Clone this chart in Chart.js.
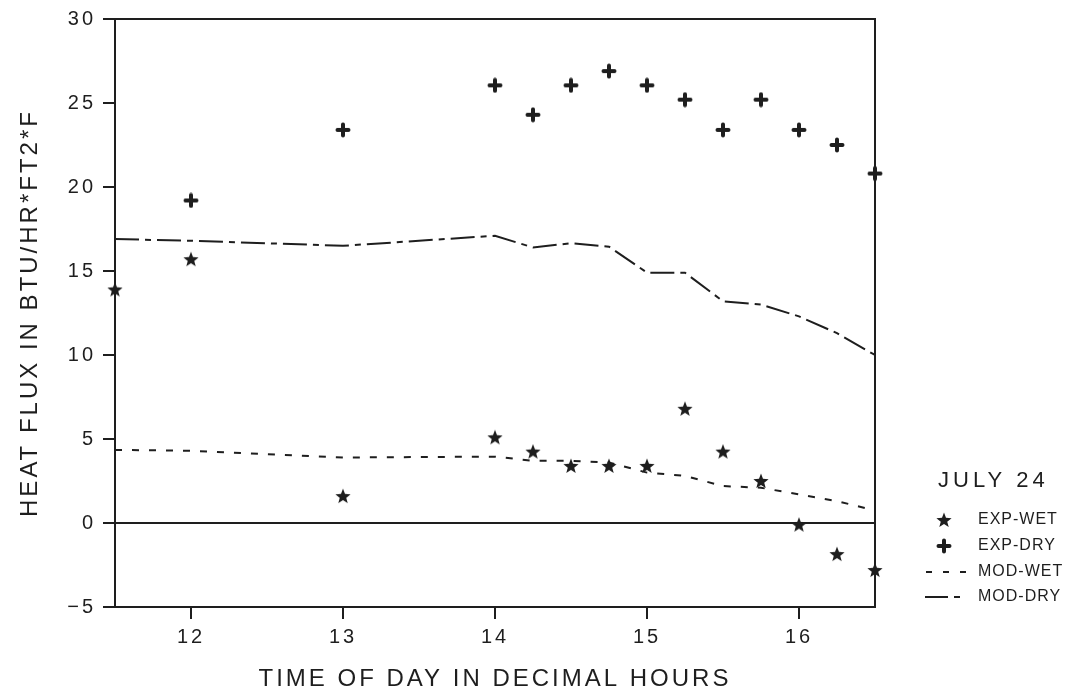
<!DOCTYPE html>
<html>
<head>
<meta charset="utf-8">
<script src="https://cdn.jsdelivr.net/npm/chart.js@4/dist/chart.umd.min.js"></script>
<style>
  html, body { margin: 0; padding: 0; background: #fff; }
  #wrap { width: 1074px; height: 696px; position: relative; }
</style>
</head>
<body>
<div id="wrap"><canvas id="chart"></canvas></div>
<script>
// time of day (decimal hours)
var hours = [11.5, 12, 13, 14, 14.25, 14.5, 14.75, 15, 15.25, 15.5, 15.75, 16, 16.25, 16.5];
var expWet = [13.9, 15.7, 1.6, 5.1, 4.25, 3.4, 3.4, 3.4, 6.8, 4.25, 2.5, -0.1, -1.85, -2.8];
var expDry = [null, 19.2, 23.4, 26.05, 24.3, 26.05, 26.9, 26.05, 25.2, 23.4, 25.2, 23.4, 22.5, 20.8];
var modWet = [4.35, 4.3, 3.9, 3.95, 3.7, 3.7, 3.6, 3.0, 2.8, 2.2, 2.1, 1.7, 1.3, 0.75];
var modDry = [16.9, 16.8, 16.5, 17.1, 16.4, 16.65, 16.45, 14.9, 14.9, 13.2, 13.0, 12.3, 11.3, 10.0];
var xTicks = [12, 13, 14, 15, 16];
var legendTitle = 'JULY 24';
var legendNames = ['EXP-WET', 'EXP-DRY', 'MOD-WET', 'MOD-DRY'];

var ink = '#1e1e1e';
var fontName = '"Liberation Sans", Arial, sans-serif';

function pts(ys) {
    var out = [];
    ys.forEach(function (y, i) {
        if (y !== null) out.push({ x: hours[i], y: y });
    });
    return out;
}

function starImage() {
    var c = document.createElement('canvas');
    c.width = 16; c.height = 16;
    var g = c.getContext('2d');
    g.fillStyle = ink;
    g.beginPath();
    for (var i = 0; i < 10; i++) {
        var r = i % 2 === 0 ? 8 : 3.4;
        var a = -Math.PI / 2 + i * Math.PI / 5;
        g.lineTo(8 + r * Math.cos(a), 8.6 + r * Math.sin(a));
    }
    g.closePath();
    g.fill();
    return c;
}

function crossImage() {
    var c = document.createElement('canvas');
    c.width = 16; c.height = 16;
    var g = c.getContext('2d');
    g.strokeStyle = ink;
    g.lineWidth = 4;
    g.lineCap = 'round';
    g.beginPath();
    g.moveTo(2.5, 8); g.lineTo(13.5, 8);
    g.moveTo(8, 2.5); g.lineTo(8, 13.5);
    g.stroke();
    return c;
}

var star = starImage();
var cross = crossImage();
var wetDash = [7, 10];
var dryDash = [24, 6, 6, 6];

var spacingPlugin = {
    id: 'spacing',
    beforeDraw: function (chart) {
        chart.ctx.letterSpacing = '3px';
    }
};

var framePlugin = {
    id: 'frame',
    afterDatasetsDraw: function (chart) {
        var a = chart.chartArea, ctx = chart.ctx;
        ctx.save();
        ctx.strokeStyle = ink;
        ctx.lineWidth = 2;
        ctx.strokeRect(a.left, a.top, a.right - a.left, a.bottom - a.top);
        ctx.restore();
    },
    afterDraw: function (chart) {
        var ctx = chart.ctx;
        ctx.save();
        ctx.fillStyle = ink;
        ctx.textBaseline = 'middle';
        ctx.textAlign = 'left';
        ctx.letterSpacing = '4px';
        ctx.font = '22px ' + fontName;
        ctx.fillText(legendTitle, 938, 481);

        var rows = [520, 546, 572, 597];
        ctx.letterSpacing = '1px';
        ctx.font = '16px ' + fontName;
        legendNames.forEach(function (name, i) {
            ctx.fillText(name, 978, rows[i]);
        });
        ctx.drawImage(star, 936, rows[0] - 8);
        ctx.drawImage(cross, 936, rows[1] - 8);

        ctx.strokeStyle = ink;
        ctx.lineWidth = 2;
        ctx.setLineDash([6, 11]);
        ctx.beginPath();
        ctx.moveTo(926, rows[2]); ctx.lineTo(966, rows[2]);
        ctx.stroke();
        ctx.setLineDash([23, 6, 6, 20]);
        ctx.beginPath();
        ctx.moveTo(925, rows[3]); ctx.lineTo(961, rows[3]);
        ctx.stroke();
        ctx.restore();
    }
};

new Chart(document.getElementById('chart'), {
    type: 'scatter',
    data: {
        datasets: [
            {
                label: legendNames[0],
                data: pts(expWet),
                pointStyle: star,
                pointRadius: 8,
                clip: false,
                order: 0
            },
            {
                label: legendNames[1],
                data: pts(expDry),
                pointStyle: cross,
                pointRadius: 8,
                clip: false,
                order: 0
            },
            {
                label: legendNames[2],
                data: pts(modWet),
                showLine: true,
                pointRadius: 0,
                borderColor: ink,
                borderWidth: 2,
                borderDash: wetDash,
                order: 1
            },
            {
                label: legendNames[3],
                data: pts(modDry),
                showLine: true,
                pointRadius: 0,
                borderColor: ink,
                borderWidth: 2,
                borderDash: dryDash,
                order: 1
            }
        ]
    },
    options: {
        responsive: true,
        maintainAspectRatio: false,
        animation: false,
        events: [],
        layout: { padding: { left: 0, right: 199, top: 18, bottom: 0 } },
        plugins: {
            legend: { display: false },
            tooltip: { enabled: false }
        },
        scales: {
            x: {
                type: 'linear',
                min: 11.5,
                max: 16.5,
                afterBuildTicks: function (scale) {
                    scale.ticks = xTicks.map(function (v) { return { value: v }; });
                },
                afterFit: function (scale) { scale.height = 89; },
                grid: {
                    drawOnChartArea: false,
                    color: ink,
                    tickColor: ink,
                    tickLength: 12,
                    lineWidth: 2
                },
                border: { color: ink, width: 2 },
                ticks: {
                    color: ink,
                    padding: 6,
                    maxRotation: 0,
                    font: { family: fontName, size: 20 }
                },
                title: {
                    display: true,
                    text: 'TIME OF DAY IN DECIMAL HOURS',
                    color: ink,
                    padding: { top: 0, bottom: 2 },
                    font: { family: fontName, size: 24 }
                }
            },
            y: {
                min: -5,
                max: 30,
                afterFit: function (scale) { scale.width = 115; },
                grid: {
                    drawOnChartArea: true,
                    color: function (c) { return c.tick && c.tick.value === 0 ? ink : 'rgba(0,0,0,0)'; },
                    tickColor: ink,
                    tickLength: 12,
                    lineWidth: 2
                },
                border: { color: ink, width: 2 },
                ticks: {
                    stepSize: 5,
                    color: ink,
                    padding: 7,
                    font: { family: fontName, size: 20 },
                    callback: function (v) { return v < 0 ? '\u2212' + Math.abs(v) : String(v); }
                },
                title: {
                    display: true,
                    text: 'HEAT FLUX IN BTU/HR*FT2*F',
                    color: ink,
                    padding: { top: 16, bottom: 0 },
                    font: { family: fontName, size: 24 }
                }
            }
        }
    },
    plugins: [spacingPlugin, framePlugin]
});
</script>
</body>
</html>
